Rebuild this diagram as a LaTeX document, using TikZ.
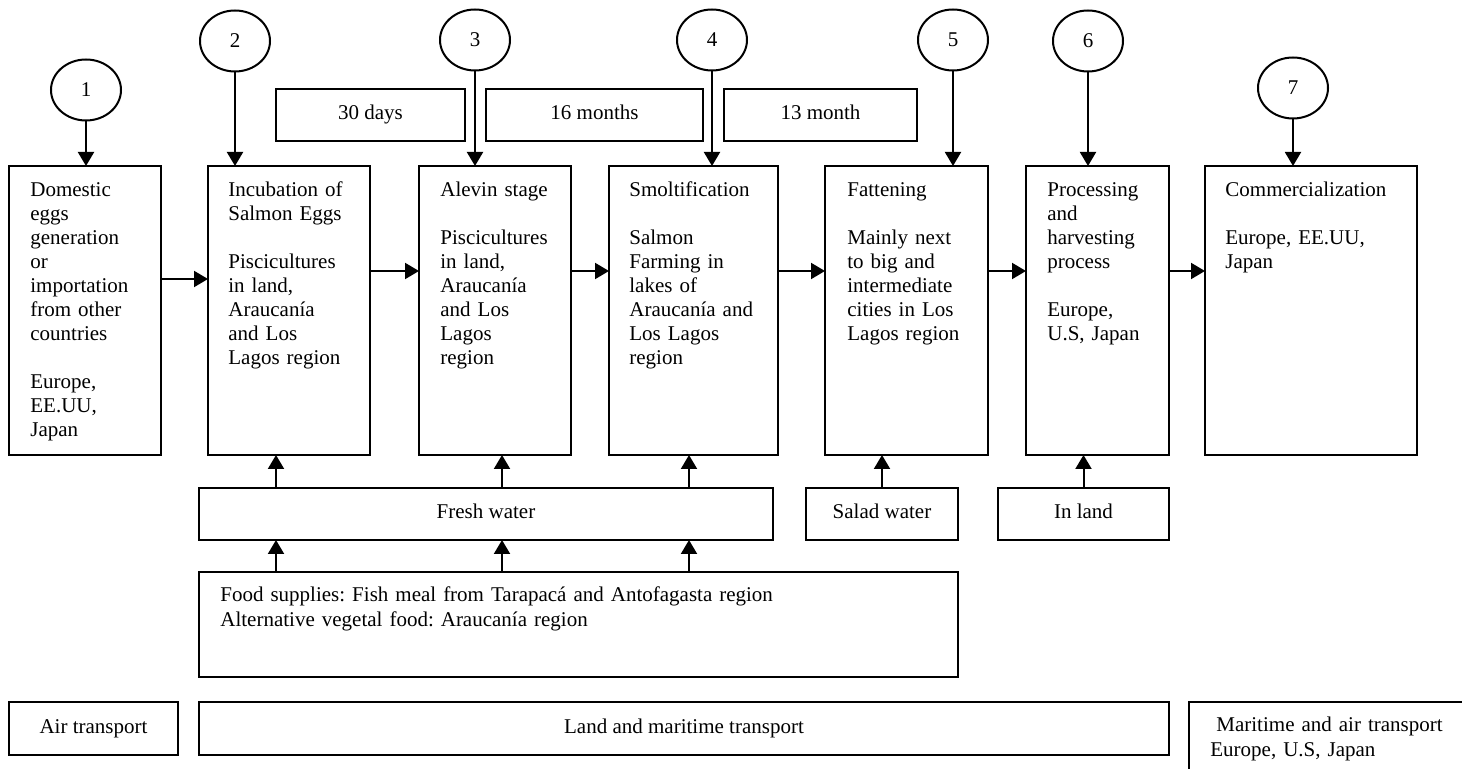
\documentclass[tikz,border=0pt]{standalone}
\usepackage{fontspec}
\setmainfont{Liberation Serif}
\usetikzlibrary{arrows.meta, positioning, shapes.geometric}
\frenchspacing

\begin{document}
\begin{tikzpicture}[
  x=0.5pt, y=-0.5pt,
  every node/.style={font=\fontsize{10.5}{12}\selectfont},
  stage/.style={draw, line width=1pt, minimum height=144.5pt, inner sep=0pt, outer sep=0pt},
  info/.style={anchor=base west, align=left, text width=120pt, inner sep=0pt},
  tag/.style={draw, line width=1pt, minimum height=26pt, inner sep=0pt, outer sep=0pt, text height=7.5pt, text depth=2.5pt},
  num/.style={draw, ellipse, line width=1pt, minimum width=35pt, minimum height=30.5pt, inner sep=0pt, outer sep=0pt},
  arr/.style={line width=1pt, -{Triangle[length=7pt, width=8pt]}},
]
  \useasboundingbox (0,0) rectangle (1462,769);

  % Stages
  \node[stage, minimum width=76pt] (b1) at (85,310.5) {};
  \node[stage, minimum width=81pt, right=23.5pt of b1] (b2) {};
  \node[stage, minimum width=76pt, right=24.5pt of b2] (b3) {};
  \node[stage, minimum width=84.5pt, right=19pt of b3] (b4) {};
  \node[stage, minimum width=81.5pt, right=23.5pt of b4] (b5) {};
  \node[stage, minimum width=71.5pt, right=19pt of b5] (b6) {};
  \node[stage, minimum width=106pt, right=18pt of b6] (b7) {};

  \node[info] (t1) at ([xshift=10.5pt, yshift=-15.5pt]b1.north west) {Domestic\\eggs\\generation\\or\\importation\\from other\\countries\\[12pt]Europe,\\EE.UU,\\Japan};
  \node[info] (t2) at ([xshift=10pt, yshift=-15.5pt]b2.north west) {Incubation of\\Salmon Eggs\\[12pt]Piscicultures\\in land,\\Araucanía\\and Los\\Lagos region};
  \node[info] (t3) at ([xshift=10.5pt, yshift=-15.5pt]b3.north west) {Alevin stage\\[12pt]Piscicultures\\in land,\\Araucanía\\and Los\\Lagos\\region};
  \node[info] (t4) at ([xshift=10pt, yshift=-15.5pt]b4.north west) {Smoltification\\[12pt]Salmon\\Farming in\\lakes of\\Araucanía and\\Los Lagos\\region};
  \node[info] (t5) at ([xshift=11pt, yshift=-15.5pt]b5.north west) {Fattening\\[12pt]Mainly next\\to big and\\intermediate\\cities in Los\\Lagos region};
  \node[info] (t6) at ([xshift=10.5pt, yshift=-15.5pt]b6.north west) {Processing\\and\\harvesting\\process\\[12pt]Europe,\\U.S, Japan};
  \node[info] (t7) at ([xshift=10pt, yshift=-15.5pt]b7.north west) {Commercialization\\[12pt]Europe, EE.UU,\\Japan};

  % Step numbers
  \node[num] (c1) at (86,90) {1};
  \node[num] (c2) at (235,41) {2};
  \node[num] (c3) at (475,40) {3};
  \node[num] (c4) at (712,40) {4};
  \node[num] (c5) at (953,40) {5};
  \node[num] (c6) at (1088,41) {6};
  \node[num] (c7) at (1293,88) {7};

  % Durations
  \node[tag, minimum width=94.5pt] (d1) at (370.5,115) {30 days};
  \node[tag, minimum width=108.5pt] (d2) at (594.5,115) {16 months};
  \node[tag, minimum width=96.5pt] (d3) at (820.5,115) {13 month};

  % Water and food
  \node[tag, minimum width=287pt] (fresh) at (486,514) {Fresh water};
  \node[tag, minimum width=76pt] (salad) at (882,514) {Salad water};
  \node[tag, minimum width=85.5pt] (inland) at (1083.5,514) {In land};
  \node[tag, minimum width=379.5pt, minimum height=52.5pt] (food) at (578.5,624.5) {};
  \node[info, text width=370pt] (foodtxt) at ([xshift=10.5pt, yshift=-15pt]food.north west) {Food supplies: Fish meal from Tarapacá and Antofagasta region\\[0.5pt]Alternative vegetal food: Araucanía region};

  % Transport
  \node[tag, minimum width=84.5pt, minimum height=26.5pt] (air) at (93.5,728.5) {Air transport};
  \node[tag, minimum width=485pt, minimum height=26.5pt] (landsea) at (684,728.5) {Land and maritime transport};
  \node[tag, minimum width=155.5pt, minimum height=49pt] (seaair) at (1344.5,751) {};
  \node[info, text width=150pt] (seatxt) at ([xshift=10.5pt, yshift=-15pt]seaair.north west) {\hspace*{3pt}Maritime and air transport\\[0.5pt]Europe, U.S, Japan};

  % Edges
  \draw[arr] (c1) -- (c1 |- b1.north);
  \draw[arr] (c2) -- (c2 |- b2.north);
  \draw[arr] (c3) -- (c3 |- b3.north);
  \draw[arr] (c4) -- (c4 |- b4.north);
  \draw[arr] (c5) -- (c5 |- b5.north);
  \draw[arr] (c6) -- (c6 |- b6.north);
  \draw[arr] (c7) -- (c7 |- b7.north);

  \draw[arr] ([yshift=15.75pt]b1.east) -- ([yshift=15.75pt]b2.west);
  \draw[arr] ([yshift=19.75pt]b2.east) -- ([yshift=19.75pt]b3.west);
  \draw[arr] ([yshift=19.75pt]b3.east) -- ([yshift=19.75pt]b4.west);
  \draw[arr] ([yshift=19.75pt]b4.east) -- ([yshift=19.75pt]b5.west);
  \draw[arr] ([yshift=19.75pt]b5.east) -- ([yshift=19.75pt]b6.west);
  \draw[arr] ([yshift=19.75pt]b6.east) -- ([yshift=19.75pt]b7.west);

  \coordinate (up2) at (276,0);
  \coordinate (up3) at (502,0);
  \coordinate (up4) at (689,0);
  \draw[arr] (fresh.north -| up2) -- (b2.south -| up2);
  \draw[arr] (fresh.north -| up3) -- (b3.south -| up3);
  \draw[arr] (fresh.north -| up4) -- (b4.south -| up4);
  \draw[arr] (food.north -| up2) -- (fresh.south -| up2);
  \draw[arr] (food.north -| up3) -- (fresh.south -| up3);
  \draw[arr] (food.north -| up4) -- (fresh.south -| up4);
  \draw[arr] (salad) -- (salad |- b5.south);
  \draw[arr] (inland) -- (inland |- b6.south);
\end{tikzpicture}
\end{document}
